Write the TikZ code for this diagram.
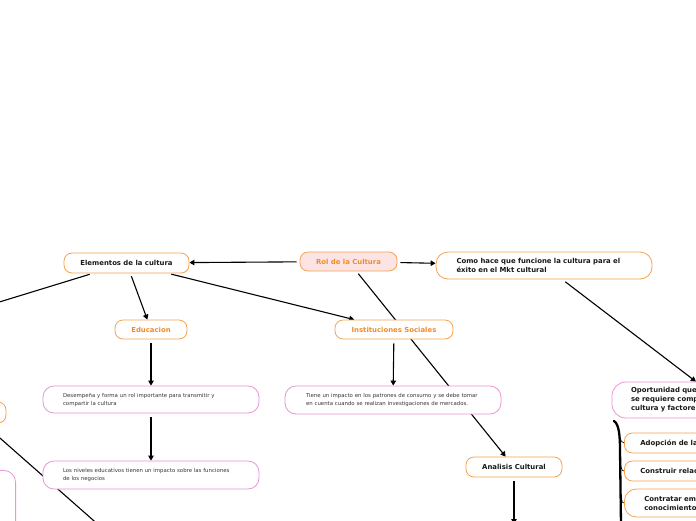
\documentclass[tikz,border=0pt]{standalone}
\usepackage{fontspec}
\setmainfont{DejaVu Sans}
\usetikzlibrary{arrows.meta,backgrounds}
\definecolor{orB}{RGB}{246,162,78}
\definecolor{orT}{RGB}{240,140,40}
\definecolor{pkB}{RGB}{232,150,218}
\definecolor{rolF}{RGB}{252,228,228}
\definecolor{txtB}{RGB}{25,25,25}
\definecolor{txtG}{RGB}{55,55,55}
\tikzset{
  obox/.style={draw=orB, line width=0.8pt, rounded corners=8pt, fill=white, inner sep=0pt,
    font=\bfseries\fontsize{6.9}{9}\selectfont, text=txtB},
  otext/.style={text=orT},
  pbox/.style={draw=pkB, line width=0.8pt, rounded corners=11pt, fill=white, inner sep=0pt,
    font=\fontsize{5.4}{8}\selectfont, text=txtG},
  conn/.style={line width=1.1pt, draw=black},
  arr/.style={conn, -{Triangle[length=5pt,width=5.5pt]}},
  brk/.style={line width=2.3pt, draw=black, line cap=round},
  thin/.style={line width=0.6pt, draw=black},
}
\begin{document}
\begin{tikzpicture}[x=1pt,y=-1pt]
\useasboundingbox (0,0) rectangle (696,520);
\clip (0,0) rectangle (696,520);

% nodes
\node[obox, otext, fill=rolF, minimum width=97, minimum height=19] (rol) at (348.5,261.5) {Rol de la Cultura};
\node[obox, minimum width=125, minimum height=20] (elem) at (126.5,263) {Elementos de la cultura};
\node[obox, minimum width=216, minimum height=27, text width=175, align=left, rounded corners=12pt] (como) at (544,265.5) {Como hace que funcione la cultura para el\\éxito en el Mkt cultural};
\node[obox, otext, minimum width=72, minimum height=19] (edu) at (151,329.5) {Educacion};
\node[obox, otext, minimum width=118, minimum height=19] (inst) at (394,329.5) {Instituciones Sociales};
\node[pbox, minimum width=216, minimum height=27, text width=176, align=left] (des) at (151,399.5) {Desempeña y forma un rol importante para transmitir y\\compartir la cultura};
\node[pbox, minimum width=216, minimum height=28, text width=174, align=left] (tiene) at (393,400) {Tiene un impacto en los patrones de consumo y se debe tomar\\en cuenta cuando se realizan investigaciones de mercados.};
\node[pbox, minimum width=216, minimum height=28, text width=176, align=left] (niv) at (151,475) {Los niveles educativos tienen un impacto sobre las funciones\\de los negocios};
\node[obox, minimum width=96, minimum height=20] (anal) at (514,467) {Analisis Cultural};
\node[pbox, font=\bfseries\fontsize{6.9}{9}\selectfont, text=txtB, minimum width=216, minimum height=36, text width=178, align=left, rounded corners=14pt] (oport) at (720,400) {Oportunidad que\\se requiere comp\\cultura y factore};
\node[obox, anchor=west, minimum width=150, minimum height=20, text width=118, align=left] (adop) at (624,443) {Adopción de la};
\node[obox, anchor=west, minimum width=150, minimum height=20, text width=118, align=left] (constr) at (624,471) {Construir relac};
\node[obox, anchor=west, minimum width=150, minimum height=28, text width=110, align=left, rounded corners=12pt] (contr) at (624,503) {Contratar em\\conocimiento};
\node[obox, minimum width=70, minimum height=21] (leftor) at (-29,412.5) {};
\node[pbox, anchor=north east, minimum width=80, minimum height=80, rounded corners=12pt] (leftpk) at (16,470) {};

\coordinate (offL) at (-30,311);
\coordinate (offL2) at (110,535);
\coordinate (offB) at (514,524);
\coordinate (br1) at (614,421);
\coordinate (br2) at (620,450);
\coordinate (br3) at (621,525);
\coordinate (bk1) at (620,438);
\coordinate (bk2) at (620.5,465);
\coordinate (bk3) at (621,496);

\begin{pgfonlayer}{background}
\clip (0,0) rectangle (696,520);
\fill[white] (0,0) rectangle (696,520);
\draw[arr, shorten <=3pt] (rol) -- (elem);
\draw[arr, shorten <=3pt] (rol) -- (como);
\draw[arr, shorten <=3pt] (rol) -- (anal);
\draw[arr, shorten <=3pt] (elem) -- (edu);
\draw[arr, shorten <=3pt] (elem) -- (inst);
\draw[conn, shorten <=3pt] (elem) -- (offL);
\draw[arr, shorten <=4pt] (edu) -- (des);
\draw[arr, shorten <=4pt] (des) -- (niv);
\draw[arr, shorten <=4pt] (inst) -- (tiene);
\draw[arr, shorten <=4pt] (como) -- (oport);
\draw[arr, shorten <=4pt] (anal) -- (offB);
\draw[conn] (leftor) -- (offL2);
\draw[brk] (br1) .. controls (619,424) and (620,436) .. (br2) -- (br3);
\draw[thin] (bk1) to[out=-60,in=180] (adop.west);
\draw[thin] (bk2) to[out=-60,in=180] (constr.west);
\draw[thin] (bk3) to[out=-60,in=180] (contr.west);
\end{pgfonlayer}
\end{tikzpicture}
\end{document}
